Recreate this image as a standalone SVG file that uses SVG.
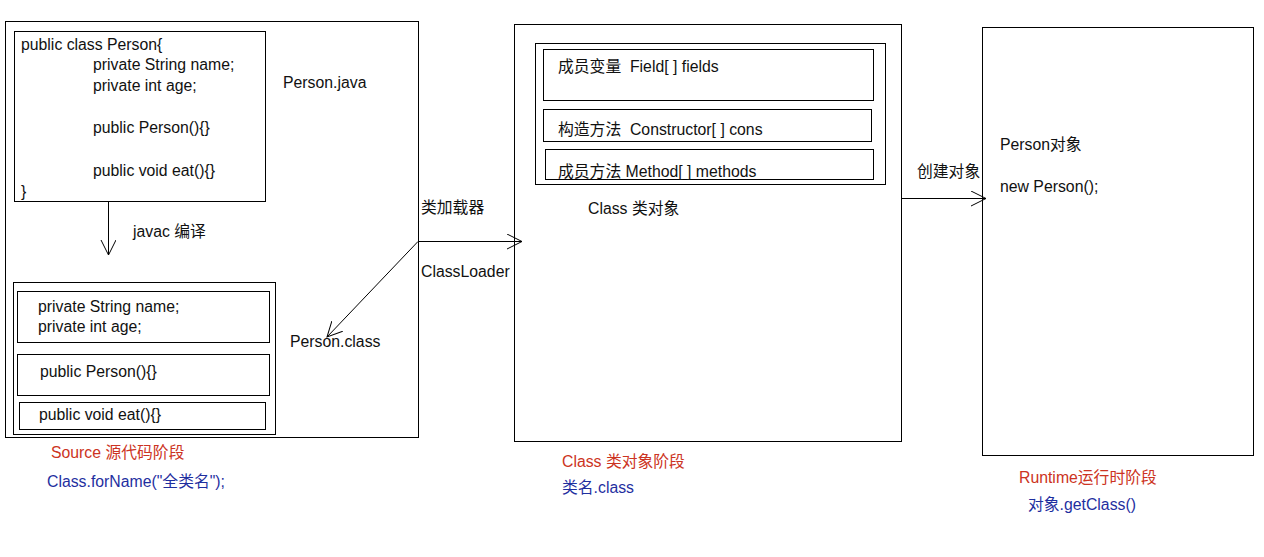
<svg xmlns="http://www.w3.org/2000/svg" width="1264" height="557" viewBox="0 0 1264 557">
<style>
text{font-family:"Liberation Sans","Noto Sans CJK SC",sans-serif;font-size:15.8px;fill:#111;white-space:pre}
.b{fill:#fff;stroke:#000;stroke-width:1}
.c{fill:none;stroke:#000;stroke-width:1}
.red{fill:#cc3322}
.blue{fill:#1f2f9f}
</style>
<defs>
<marker id="ah" markerUnits="userSpaceOnUse" markerWidth="18" markerHeight="18" refX="15" refY="7.5" orient="auto">
<path d="M0,0 L15,7.5 L0,15" fill="none" stroke="#000" stroke-width="1"/>
</marker>
</defs>
<rect width="1264" height="557" fill="#fff"/>
<g id="source-stage">
<rect class="b" x="5.5" y="21.5" width="413" height="416"/>
<g id="person-java">
<rect class="b" x="14.5" y="31.5" width="251" height="170"/>
<text x="21" y="50">public class Person{</text>
<text x="93" y="70">private String name;</text>
<text x="93" y="91">private int age;</text>
<text x="93" y="133">public Person(){}</text>
<text x="93" y="176">public void eat(){}</text>
<text x="21" y="197">}</text>
</g>
<text x="283" y="88">Person.java</text>
<text x="133" y="237">javac 编译</text>
<g id="person-class">
<rect class="b" x="13.5" y="282.5" width="262" height="152"/>
<rect class="b" x="17.5" y="291.5" width="252" height="51"/>
<text x="38" y="312">private String name;</text>
<text x="38" y="332">private int age;</text>
<rect class="b" x="17.5" y="354.5" width="252" height="41"/>
<text x="40" y="377">public Person(){}</text>
<rect class="b" x="19.5" y="402.5" width="246" height="27"/>
<text x="39" y="420">public void eat(){}</text>
</g>
<text x="290" y="347">Person.class</text>
</g>
<text class="red" x="51" y="458">Source 源代码阶段</text>
<text class="blue" x="47" y="487">Class.forName("全类名");</text>
<g id="class-stage">
<rect class="b" x="514.5" y="24.5" width="387" height="417"/>
<rect class="b" x="535.5" y="43.5" width="350" height="141"/>
<rect class="b" x="543.5" y="49.5" width="330" height="51"/>
<text x="558" y="72">成员变量  Field[ ] fields</text>
<rect class="b" x="543.5" y="109.5" width="328" height="32"/>
<text x="558" y="135">构造方法  Constructor[ ] cons</text>
<rect class="b" x="545.5" y="149.5" width="328" height="30"/>
<text x="558" y="177">成员方法 Method[ ] methods</text>
<text x="588" y="214">Class 类对象</text>
</g>
<text class="red" x="562" y="467">Class 类对象阶段</text>
<text class="blue" x="562" y="493">类名.class</text>
<g id="runtime-stage">
<rect class="b" x="982.5" y="27.5" width="271" height="428"/>
<text x="1000" y="150">Person对象</text>
<text x="1000" y="192">new Person();</text>
</g>
<text class="red" x="1019" y="483">Runtime运行时阶段</text>
<text class="blue" x="1028" y="510">对象.getClass()</text>
<g id="connectors">
<line class="c" x1="108.5" y1="201" x2="108.5" y2="255" marker-end="url(#ah)"/>
<line class="c" x1="418" y1="241.5" x2="522" y2="241.5" marker-end="url(#ah)"/>
<line class="c" x1="418" y1="241.5" x2="327" y2="337" marker-end="url(#ah)"/>
<line class="c" x1="901" y1="198.5" x2="986" y2="198.5" marker-end="url(#ah)"/>
<text x="421" y="213">类加载器</text>
<text x="421" y="277">ClassLoader</text>
<text x="917" y="177">创建对象</text>
</g>
</svg>
